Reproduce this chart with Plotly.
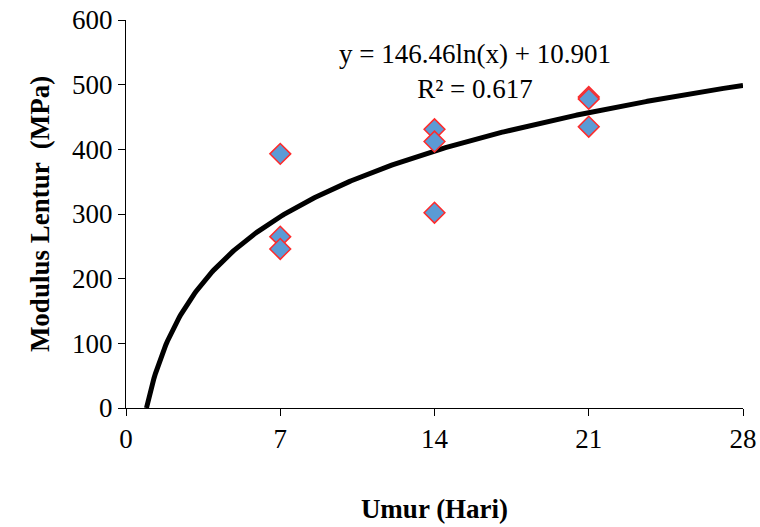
import numpy as np
import plotly.graph_objects as go

# Data
umur = [7, 7, 7, 14, 14, 14, 21, 21, 21]
modulus = [393, 265, 246, 431, 412, 302, 481, 478, 435]

x_ticks = [0, 7, 14, 21, 28]
y_ticks = [0, 100, 200, 300, 400, 500, 600]

# Logarithmic trendline coefficients (as shown on chart)
coef_a = 146.46
coef_b = 10.901
r2_text = "R² = 0.617"

x0 = np.exp(-coef_b / coef_a)
xt = np.linspace(x0, 28, 400)
yt = coef_a * np.log(xt) + coef_b

FS = 27

fig = go.Figure()
fig.add_trace(go.Scatter(x=xt, y=yt, mode="lines",
                         line=dict(color="black", width=5), showlegend=False,
                         hoverinfo="skip"))
fig.add_trace(go.Scatter(x=umur, y=modulus, mode="markers",
                         marker=dict(symbol="diamond", size=16, color="#5B9BD5",
                                     line=dict(color="#FF2A2A", width=1.5)),
                         showlegend=False))

fig.add_annotation(x=15.85, y=521, xref="x", yref="y",
                   text=f"y = {coef_a}ln(x) + {coef_b}<br>{r2_text}",
                   showarrow=False, align="center",
                   font=dict(family="Liberation Serif", size=FS, color="black"))

fig.update_layout(
    width=760, height=527,
    margin=dict(l=126, r=17, t=20, b=119),
    paper_bgcolor="white", plot_bgcolor="white",
    font=dict(family="Liberation Serif", size=FS, color="black"),
)
fig.update_xaxes(range=[0, 28], tickvals=x_ticks, showline=True, linecolor="black",
                 linewidth=1, ticks="outside", ticklen=7, tickcolor="black",
                 showgrid=False, zeroline=False, automargin=False,
                 ticklabeloverflow="allow",
                 title=dict(text="<b>Umur (Hari)</b>", font=dict(size=FS), standoff=45))
fig.update_yaxes(range=[0, 600], tickvals=y_ticks, showline=True, linecolor="black",
                 linewidth=1, ticks="outside", ticklen=7, tickcolor="black",
                 showgrid=False, zeroline=False, automargin=False,
                 ticklabeloverflow="allow",
                 title=dict(text="<b>Modulus Lentur  (MPa)</b>", font=dict(size=FS), standoff=14))

fig.write_html("out.html", config={"displayModeBar": False},
               post_script="document.body.style.margin='0';document.body.style.overflow='hidden';")
